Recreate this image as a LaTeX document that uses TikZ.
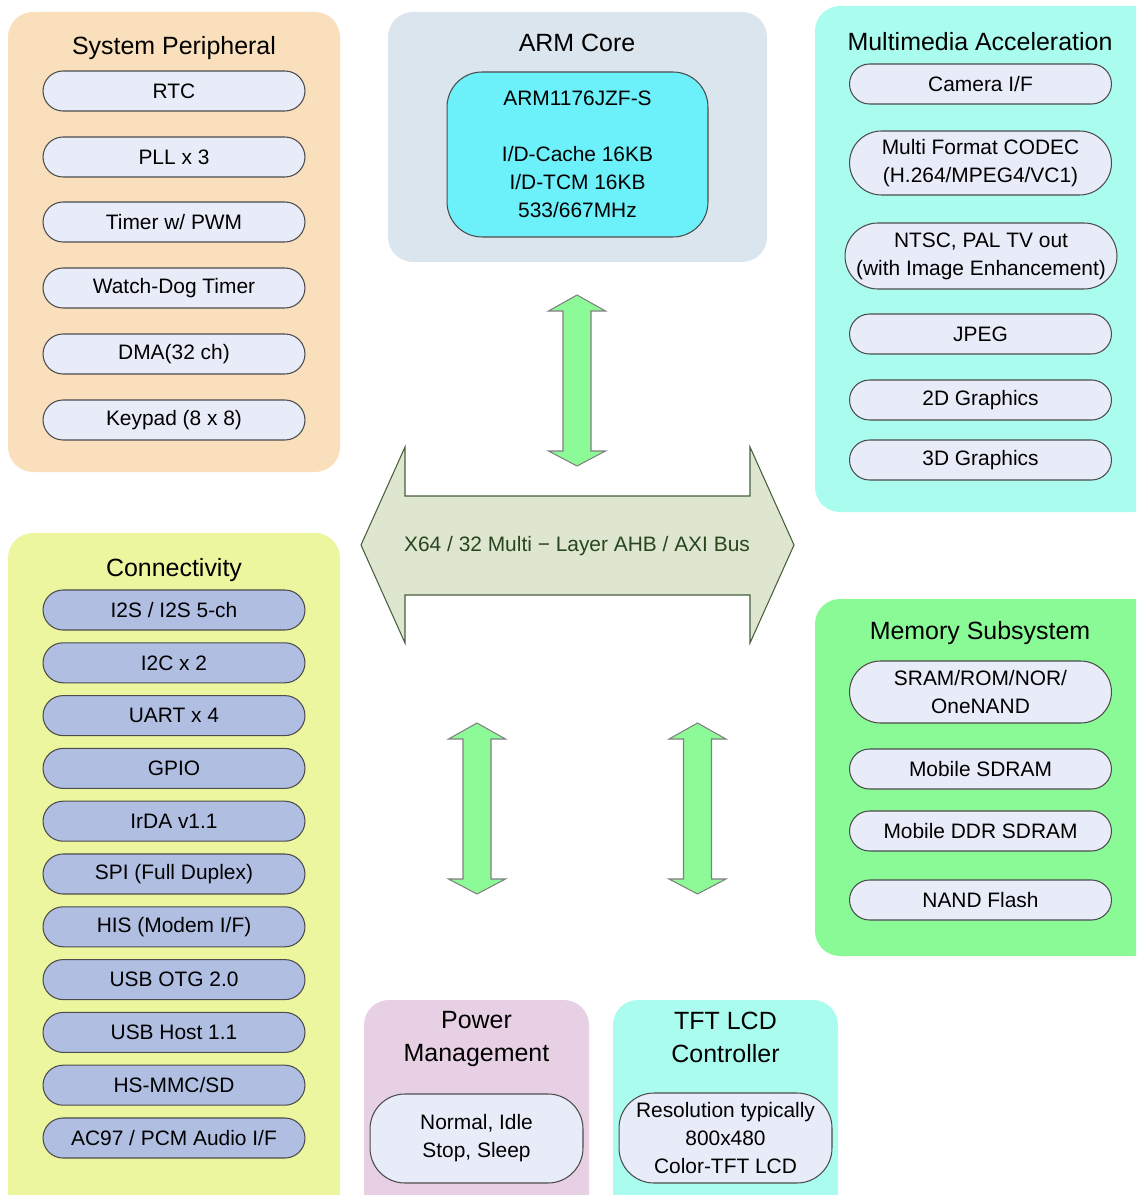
\documentclass[tikz,border=0pt]{standalone}
\usepackage{fontspec}
\setmainfont{Liberation Sans}
\usetikzlibrary{positioning}

\definecolor{sysfill}{RGB}{249,223,187}
\definecolor{armfill}{RGB}{219,229,238}
\definecolor{corefill}{RGB}{108,240,250}
\definecolor{mmfill}{RGB}{170,253,238}
\definecolor{connfill}{RGB}{235,246,158}
\definecolor{memfill}{RGB}{138,250,150}
\definecolor{pwrfill}{RGB}{232,208,228}
\definecolor{itemfill}{RGB}{232,236,248}
\definecolor{connitem}{RGB}{176,190,226}
\definecolor{busfill}{RGB}{222,230,207}
\definecolor{busline}{RGB}{70,95,60}
\definecolor{bustext}{RGB}{40,70,30}
\definecolor{arrowfill}{RGB}{140,250,150}

\newcommand{\bodyfont}{\fontsize{11.9}{15.9}\selectfont}
\newcommand{\headfont}{\fontsize{14.2}{18.7}\selectfont}

\tikzset{
  panel/.style={rounded corners=0.5cm},
  item/.style={draw=black!70, line width=0.6pt, fill=itemfill,
    minimum width=5.24cm, minimum height=0.8cm, rounded corners=0.4cm,
    inner sep=0pt, align=center, font=\bodyfont},
  title/.style={font=\headfont, align=center, inner sep=0pt},
  updown/.style={draw=black!50, fill=arrowfill, line width=0.6pt},
}

\begin{document}
\begin{tikzpicture}[x=0.02cm,y=-0.02cm]
  \clip (0,0) rectangle (1136,1195);

  % panels
  \fill[panel, sysfill] (8,12) rectangle (340,472);
  \fill[panel, armfill] (388,12) rectangle (767,262);
  \fill[panel, mmfill] (815,6) rectangle (1160,512);
  \fill[panel, connfill] (8,533) rectangle (340,1230);
  \fill[panel, memfill] (815,599) rectangle (1160,956);
  \fill[panel, pwrfill] (364,1000) rectangle (589,1230);
  \fill[panel, mmfill] (613,1000) rectangle (838,1230);

  % system peripheral
  \node[title] (sysT) at (174,48) {System Peripheral};
  \node[item] (rtc) at (174,91) {RTC};
  \node[item] (pll) at (174,157) {PLL x 3};
  \node[item] (timer) at (174,222) {Timer w/ PWM};
  \node[item] (wdt) at (174,288) {Watch-Dog Timer};
  \node[item] (dma) at (174,354) {DMA(32 ch)};
  \node[item] (keypad) at (174,420) {Keypad (8 x 8)};

  % arm core
  \node[title] (armT) at (577,43) {ARM Core};
  \node[draw=black!70, line width=0.6pt, fill=corefill, minimum width=5.22cm,
    minimum height=3.3cm, rounded corners=0.7cm, align=center, font=\bodyfont]
    (core) at (577.5,154.5)
    {ARM1176JZF-S\\ \\I/D-Cache 16KB\\I/D-TCM 16KB\\533/667MHz};

  % multimedia
  \node[title] (mmT) at (980,42) {Multimedia Acceleration};
  \node[item] (cam) at (980.5,84) {Camera I/F};
  \node[item, minimum height=1.28cm, rounded corners=0.64cm] (codec) at (980.5,163)
    {Multi Format CODEC\\(H.264/MPEG4/VC1)};
  \node[item, minimum width=5.44cm, minimum height=1.32cm, rounded corners=0.66cm] (tvout) at (981,256)
    {NTSC, PAL TV out\\(with Image Enhancement)};
  \node[item] (jpeg) at (980.5,334) {JPEG};
  \node[item] (gfx2d) at (980.5,400) {2D Graphics};
  \node[item] (gfx3d) at (980.5,460) {3D Graphics};

  % connectivity
  \node[title] (connT) at (174,570) {Connectivity};
  \foreach \txt [count=\i from 0] in {I2S / I2S 5-ch, I2C x 2, UART x 4, GPIO,
      IrDA v1.1, SPI (Full Duplex), HIS (Modem I/F), USB OTG 2.0,
      USB Host 1.1, HS-MMC/SD, AC97 / PCM Audio I/F}
    \node[item, fill=connitem] (conn\i) at (174,610+52.8*\i) {\txt};

  % memory
  \node[title] (memT) at (980,633) {Memory Subsystem};
  \node[item, minimum height=1.24cm, rounded corners=0.62cm] (sram) at (980.5,692)
    {SRAM/ROM/NOR/\\OneNAND};
  \node[item] (sdram) at (980.5,769) {Mobile SDRAM};
  \node[item] (ddr) at (980.5,831) {Mobile DDR SDRAM};
  \node[item] (nand) at (980.5,900) {NAND Flash};

  % power and lcd
  \node[title] (pwrT) at (476.5,1039) {Power\\Management};
  \node[item, minimum width=4.26cm, minimum height=1.78cm, rounded corners=0.7cm] (modes)
    at (476.5,1138.5) {Normal, Idle\\Stop, Sleep};
  \node[title] (lcdT) at (725.5,1037) {TFT LCD\\Controller};
  \node[item, minimum width=4.26cm, minimum height=1.8cm, rounded corners=0.7cm] (lcd)
    at (725.5,1138) {Resolution typically\\800x480\\Color-TFT LCD};

  % bus
  \draw[fill=busfill, draw=busline, line width=0.6pt] (361,545) -- (405,447) -- (405,496) -- (750,496)
    -- (750,447) -- (794,545) -- (750,643) -- (750,595) -- (405,595) -- (405,643) -- cycle;
  \node[font=\bodyfont, text=bustext] (bus) at (577,546) {X64 / 32 Multi − Layer AHB / AXI Bus};

  % links to the bus
  \foreach \x/\ya/\yb in {577/295/466, 477/723/894, 697.5/723/894}
    \draw[updown] (\x,\ya) -- (\x+28.5,\ya+16) -- (\x+14,\ya+16) -- (\x+14,\yb-15)
      -- (\x+28.5,\yb-15) -- (\x,\yb) -- (\x-28.5,\yb-15) -- (\x-14,\yb-15)
      -- (\x-14,\ya+16) -- (\x-28.5,\ya+16) -- cycle;
\end{tikzpicture}
\end{document}
